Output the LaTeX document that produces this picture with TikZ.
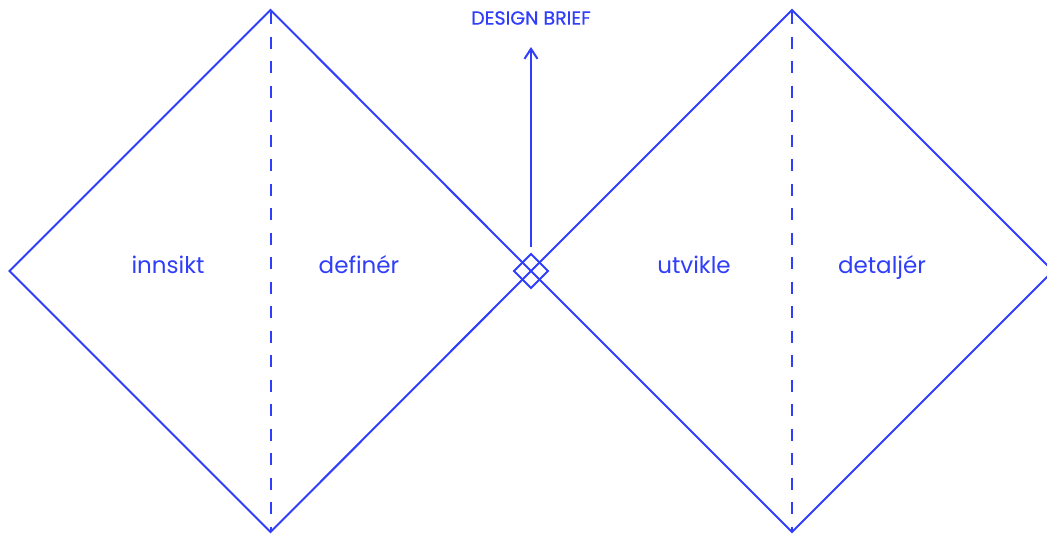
\documentclass[tikz,border=0pt]{standalone}
\usepackage{fontspec}
\setmainfont{Poppins}
\usetikzlibrary{arrows.meta}
\definecolor{dblue}{RGB}{48,62,250}
\tikzset{
  edge/.style={draw=dblue, line width=2pt, line join=miter},
  divider/.style={draw=dblue, line width=2pt, dash pattern=on 12pt off 12.5pt, dash phase=-2pt},
  phase/.style={text=dblue, font=\fontsize{23}{27}\selectfont, inner sep=0pt, anchor=base},
  brief/.style={text=dblue, font=\fontsize{19}{22}\selectfont\addfontfeatures{FakeBold=0.6}, inner sep=0pt}
}
\begin{document}
\begin{tikzpicture}[x=1pt,y=-1pt]
\useasboundingbox (0,0) rectangle (1047,533);
\clip (0,0) rectangle (1047,533);
% left diamond
\coordinate (L1) at (9.5,271);
\coordinate (T1) at (270.5,10);
\coordinate (R1) at (531,271);
\coordinate (B1) at (270.5,532);
% right diamond
\coordinate (T2) at (792,10);
\coordinate (R2) at (1053,271);
\coordinate (B2) at (792,532);
\draw[edge] (L1) -- (T1) -- (R1) -- (B1) -- cycle;
\draw[edge] (R1) -- (T2) -- (R2) -- (B2) -- cycle;
\draw[divider] (T1) -- (B1);
\draw[divider] (T2) -- (B2);
% small centre diamond
\draw[edge] (531,254) -- (548,271) -- (531,288) -- (514,271) -- cycle;
% labels
\node[phase] (innsikt) at (168,273.5) {innsikt};
\node[phase] (definer) at (359,273.5) {definér};
\node[phase] (utvikle) at (694,273.5) {utvikle};
\node[phase] (detaljer) at (882,273.5) {detaljér};
\node[brief] (brief) at (531,18) {DESIGN BRIEF};
\coordinate (astart) at (531,247);
\coordinate (aend) at (531,47);
\draw[edge, -{Straight Barb[length=10pt,width=13pt,line width=2pt]}] (astart) -- (aend);
\end{tikzpicture}
\end{document}
